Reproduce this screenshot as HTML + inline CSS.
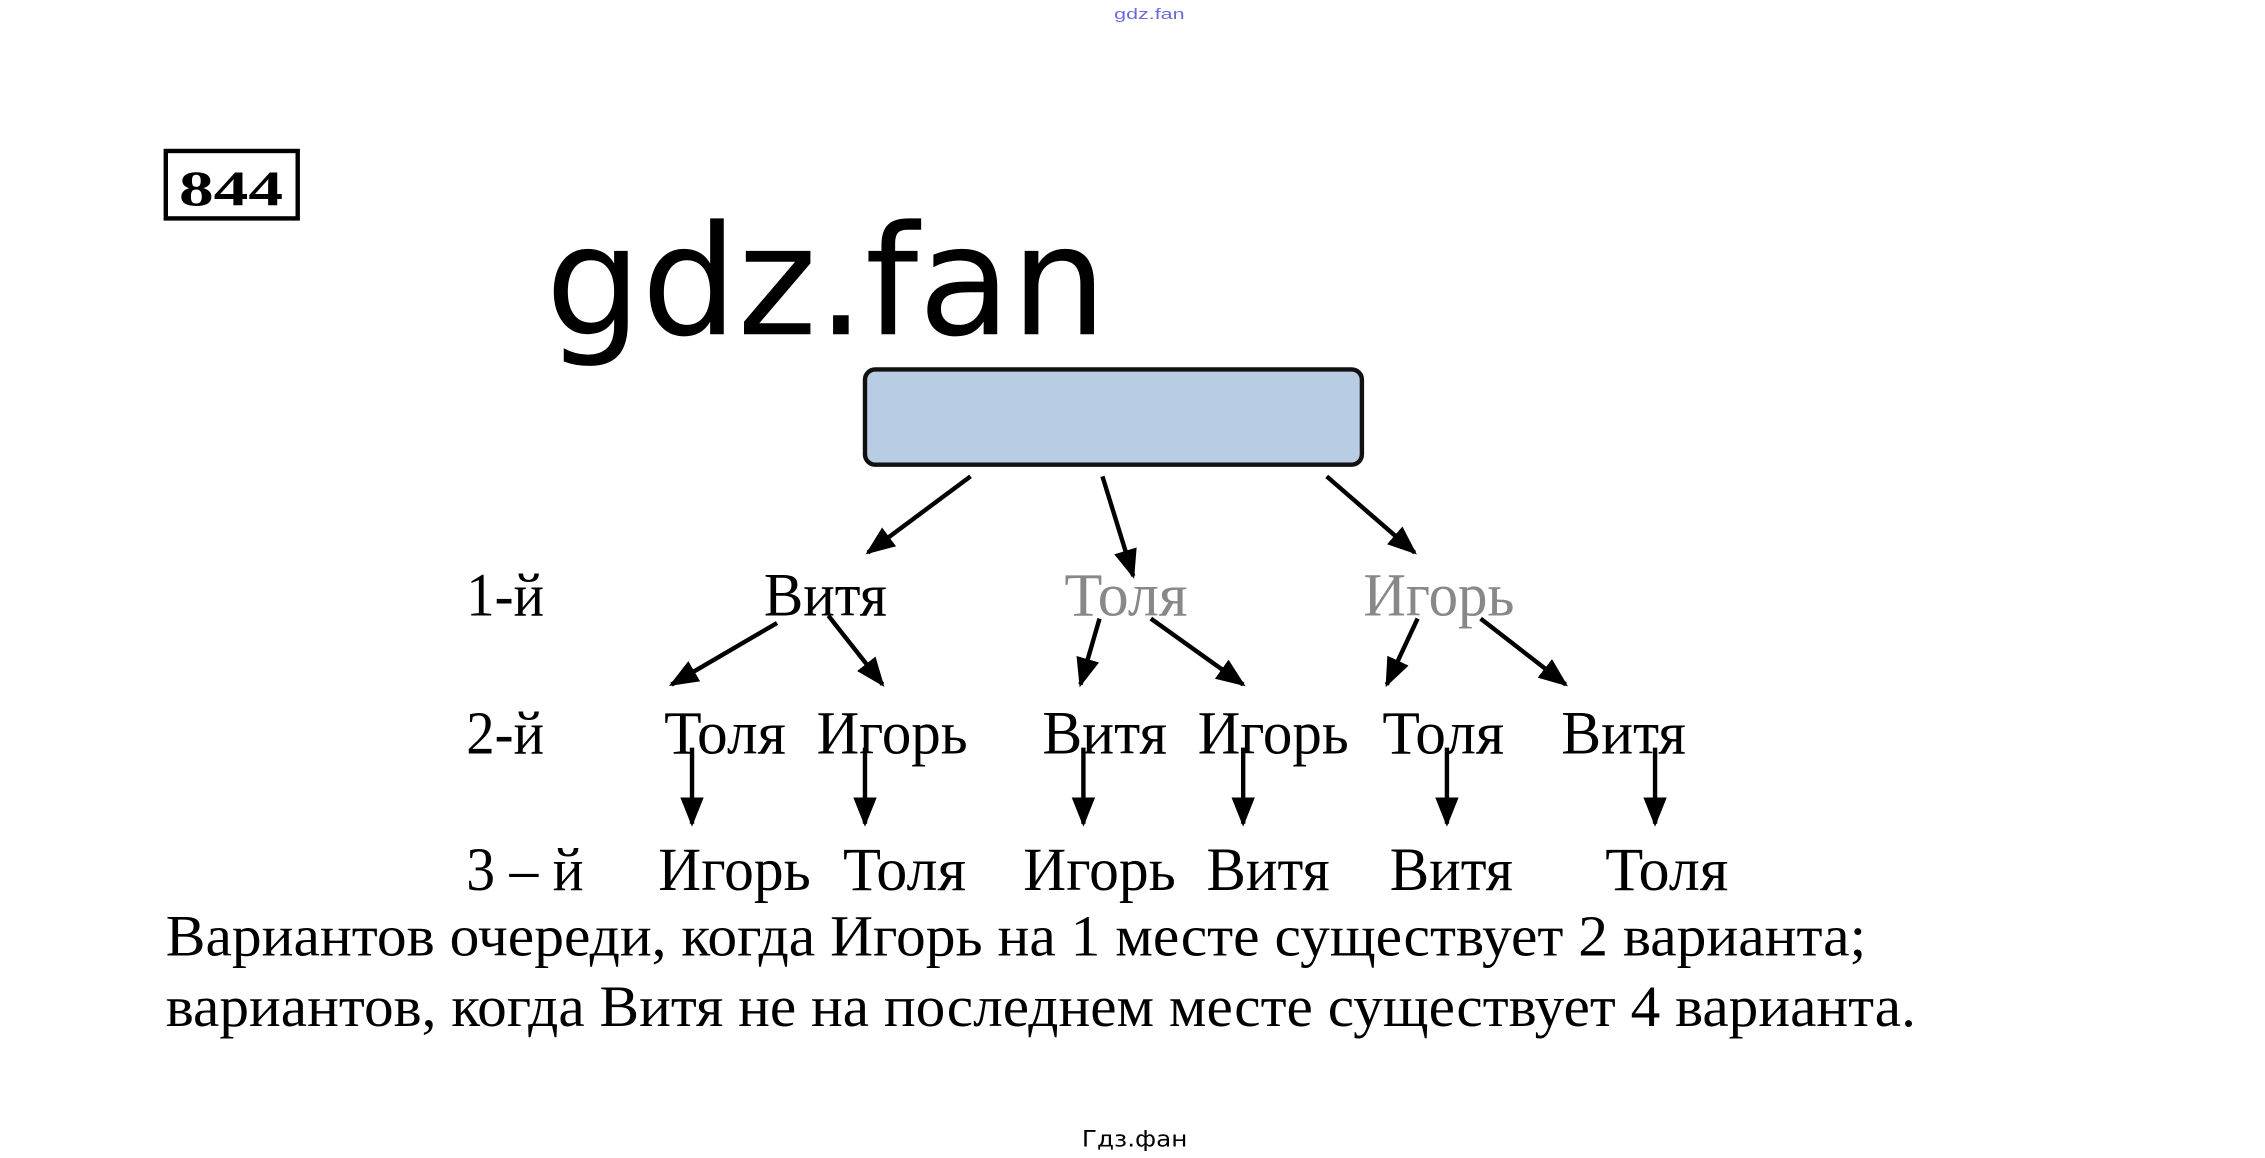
<!DOCTYPE html>
<html><head><meta charset="utf-8"><style>
html,body{margin:0;padding:0;background:#fff;}
svg{display:block;}
.s{font-family:"Liberation Serif","Noto Serif CJK SC",serif;}
</style></head><body>
<svg width="2265" height="1158" viewBox="0 0 1545 790" xmlns="http://www.w3.org/2000/svg">
<defs>
<marker id="a" markerWidth="20" markerHeight="16" refX="18" refY="8" orient="auto" markerUnits="userSpaceOnUse" viewBox="0 0 20 16">
<path d="M0,0 L20,8 L0,16 z" fill="#000"/>
</marker>
</defs>
<text x="760" y="13" font-family="Liberation Sans,sans-serif" font-size="10" fill="#6a6adf" textLength="48" lengthAdjust="spacingAndGlyphs">gdz.fan</text>
<rect x="113" y="103" width="90" height="46" fill="none" stroke="#000" stroke-width="3"/>
<text x="122" y="140" class="s" font-size="34" font-weight="bold" textLength="71" lengthAdjust="spacingAndGlyphs">844</text>
<text x="372" y="228" font-family="DejaVu Sans,Liberation Sans,sans-serif" font-size="104" textLength="383" lengthAdjust="spacingAndGlyphs">gdz.fan</text>
<rect x="590" y="252" width="339" height="65" rx="7" fill="#b8cce4" stroke="#111" stroke-width="3"/>
<g stroke="#000" stroke-width="3" marker-end="url(#a)" fill="none">
<line x1="662" y1="325" x2="592" y2="377"/>
<line x1="752" y1="325" x2="773" y2="393"/>
<line x1="905" y1="325" x2="965" y2="377"/>
<line x1="530" y1="425" x2="458" y2="467"/>
<line x1="565" y1="420" x2="602" y2="467"/>
<line x1="750" y1="422" x2="737" y2="467"/>
<line x1="785" y1="422" x2="848" y2="467"/>
<line x1="967" y1="422" x2="946" y2="467"/>
<line x1="1010" y1="422" x2="1068" y2="467"/>
<line x1="472" y1="510" x2="472" y2="562"/>
<line x1="590" y1="510" x2="590" y2="562"/>
<line x1="739" y1="510" x2="739" y2="562"/>
<line x1="848" y1="510" x2="848" y2="562"/>
<line x1="987" y1="510" x2="987" y2="562"/>
<line x1="1129" y1="510" x2="1129" y2="562"/>
</g>
<g class="s" font-size="42" lengthAdjust="spacingAndGlyphs">
<text x="318" y="420" textLength="53" lengthAdjust="spacingAndGlyphs">1-й</text>
<text x="521" y="420" textLength="84" lengthAdjust="spacingAndGlyphs">Витя</text>
<text x="726" y="420" textLength="84" fill="#888" lengthAdjust="spacingAndGlyphs">Толя</text>
<text x="930" y="420" textLength="103" fill="#888" lengthAdjust="spacingAndGlyphs">Игорь</text>
<text x="318" y="514" textLength="53" lengthAdjust="spacingAndGlyphs">2-й</text>
<text x="453" y="514" textLength="83" lengthAdjust="spacingAndGlyphs">Толя</text>
<text x="557" y="514" textLength="103" lengthAdjust="spacingAndGlyphs">Игорь</text>
<text x="711" y="514" textLength="85" lengthAdjust="spacingAndGlyphs">Витя</text>
<text x="817" y="514" textLength="103" lengthAdjust="spacingAndGlyphs">Игорь</text>
<text x="943" y="514" textLength="83" lengthAdjust="spacingAndGlyphs">Толя</text>
<text x="1065" y="514" textLength="85" lengthAdjust="spacingAndGlyphs">Витя</text>
<text x="318" y="607" textLength="80" lengthAdjust="spacingAndGlyphs">3 – й</text>
<text x="449" y="607" textLength="104" lengthAdjust="spacingAndGlyphs">Игорь</text>
<text x="575" y="607" textLength="84" lengthAdjust="spacingAndGlyphs">Толя</text>
<text x="698" y="607" textLength="104" lengthAdjust="spacingAndGlyphs">Игорь</text>
<text x="823" y="607" textLength="84" lengthAdjust="spacingAndGlyphs">Витя</text>
<text x="948" y="607" textLength="84" lengthAdjust="spacingAndGlyphs">Витя</text>
<text x="1095" y="607" textLength="84" lengthAdjust="spacingAndGlyphs">Толя</text>
</g>
<g class="s" font-size="40">
<text x="113" y="652" textLength="1160" lengthAdjust="spacingAndGlyphs">Вариантов очереди, когда Игорь на 1 месте существует 2 варианта;</text>
<text x="113" y="700" textLength="1194" lengthAdjust="spacingAndGlyphs">вариантов, когда Витя не на последнем месте существует 4 варианта.</text>
</g>
<text x="738" y="782" font-family="DejaVu Sans,Liberation Sans,sans-serif" font-size="15" textLength="72" lengthAdjust="spacingAndGlyphs">Гдз.фан</text>
</svg>
</body></html>
